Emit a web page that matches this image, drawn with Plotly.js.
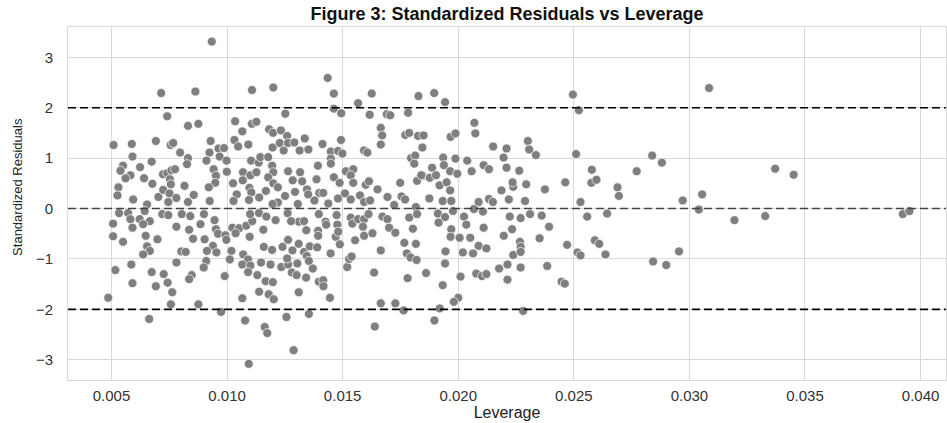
<!DOCTYPE html>
<html>
<head>
<meta charset="utf-8">
<script src="https://cdn.plot.ly/plotly-3.0.1.min.js"></script>
<style>html,body{margin:0;padding:0;background:#fff;}#chart{width:947px;height:423px;}</style>
</head>
<body>
<div id="chart"></div>
<script>
const leverage = [
0.00934,0.00715,0.00863,0.01108,0.0120,0.00741,0.00831,0.00876,0.01035,0.01066,0.01107,0.01127,0.01182,0.01199,0.01233,0.01252,0.0126,0.00509,0.00588,0.00692,0.00756,0.00767,0.00929,0.01032,0.01048,0.01092,0.00963,0.00987,0.00797,0.00924,0.00968,0.00831,0.00591,0.00674,0.0055,0.00539,0.00582,0.00561,0.00624,0.00641,0.00677,0.0053,0.00526,0.00594,0.00654,0.00703,0.00724,0.00723,0.00741,0.0076,0.00775,0.00753,0.00757,0.00751,0.00746,0.00781,0.00816,0.00831,0.00856,0.00827,0.00911,0.00942,0.00952,0.00949,0.00921,0.00925,0.00999,0.00998,0.01026,0.01042,0.01028,0.01069,0.01068,0.01101,0.01097,0.01105,0.01095,0.01139,0.01127,0.01104,0.01137,0.01144,0.01178,0.01195,0.0120,0.01178,0.0120,0.0122,0.01168,0.01197,0.01228,0.01245,0.01264,0.01251,0.0122,0.01197,
0.00533,0.00572,0.00644,0.0072,0.00746,0.00804,0.00841,0.009,0.00946,0.00507,0.00582,0.00622,0.00666,0.00637,0.00591,0.00507,0.0055,0.00648,0.00699,0.00781,0.00836,0.00885,0.00952,0.00961,0.00993,0.00997,0.01023,0.01052,0.01037,0.01098,0.01083,0.01109,0.011,0.01138,0.0117,0.01157,0.0121,0.01264,0.00654,0.00666,0.00637,0.00802,0.00821,0.00781,0.00853,0.00903,0.00939,0.00954,0.00913,0.01019,0.0107,0.01091,0.01012,0.01066,0.01101,0.01159,0.01195,0.0124,0.01147,0.01188,0.01235,0.01264,0.0091,0.00899,0.00517,0.00586,0.00674,0.00726,0.00591,0.00692,0.00743,0.00763,0.00847,0.00836,0.0099,0.01091,0.01131,0.01167,0.01198,0.01139,0.0118,0.01202,0.00486,0.00757,0.00876,0.01066,0.00974,0.00663,0.01078,0.01163,0.01174,0.01094,0.01257,
0.01435,0.01462,0.01626,0.01567,0.01828,0.01896,0.01943,0.01462,0.01494,0.01617,0.01691,0.01706,0.01783,0.01665,0.01671,0.01665,0.01771,0.01788,0.01826,0.0185,0.01845,0.01967,0.01988,0.0207,0.02074,0.02151,0.02209,0.02196,0.02209,0.01264,0.01291,0.01336,0.01314,0.01352,0.01413,0.01449,0.01493,0.0148,0.01499,0.01449,0.01449,0.01393,0.01593,0.01607,0.01796,0.01814,0.0181,0.01846,0.01887,0.01935,0.01938,0.01988,0.01965,0.01996,0.02039,0.02058,0.0211,0.02133,0.01316,0.01284,0.01325,0.01387,0.01462,0.01514,0.01546,0.01535,0.01487,0.01546,0.0160,0.01614,0.01749,0.01822,0.0184,0.01877,0.01904,0.01919,0.0195,0.01965,0.01294,0.01346,0.01399,0.01416,0.01351,0.01306,0.01378,0.01438,0.0148,0.0151,0.01535,0.01575,0.01593,0.01619,0.01651,0.01694,0.01723,0.01755,0.0177,0.01817,0.01875,0.01933,0.0197,0.02088,0.02133,0.0215,0.02187,0.02219,0.02238,
0.01262,0.0131,0.01333,0.01343,0.01277,0.01397,0.01426,0.01429,0.01394,0.01394,0.01474,0.01477,0.0147,0.01488,0.01481,0.01535,0.01542,0.01567,0.01593,0.01588,0.01612,0.01554,0.01593,0.01629,0.01672,0.01694,0.01701,0.01728,0.01788,0.01822,0.01804,0.01912,0.01943,0.01915,0.01977,0.02025,0.02035,0.02068,0.02107,0.0211,0.0197,0.01967,0.02006,0.02052,0.02223,0.02233,0.02197,0.01283,0.0131,0.01333,0.01345,0.01358,0.0139,0.0126,0.01304,0.01354,0.01371,0.0128,0.01301,0.01342,0.01397,0.01416,0.01417,0.01448,0.0131,0.01445,0.0152,0.01528,0.01539,0.01665,0.01636,0.01767,0.01817,0.01778,0.01794,0.0182,0.01781,0.01861,0.01945,0.01943,0.01933,0.0202,0.02064,0.02088,0.02122,0.0201,0.02078,0.02103,0.02122,0.02177,0.02213,0.02213,0.02238,0.02,0.01981,0.01665,0.01728,0.01764,0.0192,0.01897,0.01354,0.01639,0.01288,
0.02496,0.02522,0.03085,0.02301,0.02307,0.02336,0.0251,0.02839,0.02881,0.02264,0.02235,0.02294,0.02375,0.02463,0.02578,0.02576,0.02598,0.02772,0.02689,0.02695,0.02289,0.02529,0.02971,0.03055,0.03041,
0.0227,0.02311,0.02361,0.02393,0.02352,0.02267,0.0227,0.0227,0.02471,0.02516,0.02529,0.02558,0.02644,0.02591,0.0261,0.02637,0.0227,0.02385,0.02447,0.02461,0.02281,0.02843,0.029,0.02955,0.03195,
0.03371,0.03451,0.03328,0.03923,0.03952
];
const stdResid = [
3.31,2.29,2.32,2.35,2.40,1.83,1.64,1.68,1.73,1.53,1.68,1.72,1.57,1.50,1.55,1.88,1.44,1.26,1.28,1.34,1.26,1.30,1.34,1.36,1.23,1.27,1.19,1.20,1.11,1.11,1.03,1.0,1.03,0.93,0.85,0.75,0.66,0.60,0.82,0.60,0.49,0.42,0.26,0.18,0.08,0.23,0.37,0.68,0.70,0.76,0.78,0.58,0.48,0.30,0.13,0.21,0.45,0.13,0.27,0.88,0.95,0.78,0.65,0.51,0.42,0.15,0.73,0.95,0.50,0.28,0.15,0.72,0.56,0.66,0.41,0.32,0.17,0.22,0.72,0.95,0.91,1.02,1.02,0.85,0.72,0.62,0.50,0.42,0.35,1.21,1.30,1.15,0.74,0.25,0.12,0.09,
-0.09,-0.09,-0.05,-0.11,-0.13,-0.11,-0.15,-0.11,-0.23,-0.30,-0.21,-0.21,-0.25,-0.31,-0.38,-0.55,-0.66,-0.54,-0.61,-0.36,-0.42,-0.31,-0.41,-0.50,-0.53,-0.62,-0.38,-0.39,-0.49,-0.56,-0.34,-0.25,-0.11,-0.09,-0.16,-0.42,-0.23,-0.62,-0.75,-0.84,-0.91,-0.85,-0.86,-1.07,-0.60,-0.61,-0.74,-0.87,-0.84,-0.84,-0.91,-1.01,-1.01,-1.11,-1.13,-0.76,-0.82,-0.76,-1.07,-1.11,-1.16,-1.11,-1.04,-1.17,-1.22,-1.11,-1.26,-1.30,-1.48,-1.54,-1.47,-1.66,-1.32,-1.40,-1.34,-1.26,-1.32,-1.44,-1.46,-1.65,-1.70,-1.80,-1.77,-1.90,-1.90,-1.78,-2.05,-2.19,-2.22,-2.35,-2.47,-3.08,-2.15,
2.59,2.28,2.28,2.09,2.23,2.29,2.11,1.98,1.89,1.86,1.87,1.85,1.90,1.60,1.45,1.27,1.46,1.50,1.44,1.45,1.21,1.42,1.49,1.70,1.49,1.23,1.19,1.01,0.81,1.30,1.31,1.39,1.15,1.17,1.28,1.13,1.36,1.14,1.09,0.99,0.89,0.85,1.15,1.11,1.00,1.05,0.89,0.65,0.81,1.01,0.86,0.99,0.74,0.69,0.95,0.74,0.86,0.78,0.72,0.56,0.54,0.58,0.62,0.74,0.78,0.66,0.51,0.51,0.47,0.54,0.51,0.55,0.66,0.61,0.66,0.46,0.52,0.36,0.33,0.38,0.31,0.31,0.28,0.09,0.16,0.10,0.20,0.30,0.18,0.26,0.13,0.16,0.38,0.23,0.07,0.24,0.18,0.03,0.20,0.15,0.15,0.13,0.19,0.13,0.36,0.18,0.43,
-0.09,-0.26,-0.25,-0.43,-0.25,-0.11,-0.26,-0.32,-0.44,-0.54,-0.13,-0.32,-0.56,-0.71,-0.46,-0.18,-0.30,-0.21,-0.21,-0.36,-0.11,-0.63,-0.54,-0.49,-0.16,-0.21,-0.38,-0.48,-0.18,-0.11,-0.40,-0.10,-0.17,-0.28,-0.05,-0.16,-0.32,-0.01,-0.06,-0.38,-0.41,-0.56,-0.58,-0.58,-0.16,-0.41,-0.54,-0.83,-0.70,-0.86,-0.94,-0.75,-0.77,-0.99,-1.09,-1.04,-1.19,-1.27,-1.32,-1.37,-1.45,-1.42,-1.54,-0.89,-1.66,-1.77,-1.16,-1.0,-0.95,-0.83,-1.27,-0.68,-0.70,-0.89,-0.97,-1.02,-1.38,-1.28,-0.85,-1.09,-1.52,-0.87,-0.89,-0.74,-0.79,-1.35,-1.29,-1.34,-1.30,-1.19,-1.11,-1.41,-0.92,-1.77,-1.85,-1.88,-1.88,-2.02,-1.98,-2.22,-2.09,-2.34,-2.81,
2.26,1.95,2.39,1.34,1.17,1.06,1.08,1.05,0.91,0.75,0.52,0.48,0.38,0.52,0.77,0.51,0.57,0.74,0.42,0.25,0.15,0.13,0.16,0.28,-0.02,
-0.19,-0.11,-0.14,-0.36,-0.59,-0.66,-0.76,-0.86,-0.72,-0.87,-0.93,-0.16,-0.10,-0.63,-0.70,-0.91,-1.17,-1.14,-1.45,-1.49,-2.03,-1.05,-1.12,-0.85,-0.23,
0.79,0.67,-0.15,-0.11,-0.05
];
const refLines = [2, 0, -2];
const refColors = ['#000000', '#444444', '#000000'];
const xTickVals = [0.005, 0.010, 0.015, 0.020, 0.025, 0.030, 0.035, 0.040];

const font = 'Liberation Sans, Arial, sans-serif';
const trace = {
  x: leverage, y: stdResid, type: 'scatter', mode: 'markers',
  marker: {size: 9, color: '#7f7f7f', line: {color: '#ffffff', width: 0.7}},
  hoverinfo: 'x+y'
};
const shapes = refLines.map((v, i) => ({
  type: 'line', xref: 'paper', x0: 0, x1: 1, yref: 'y', y0: v, y1: v,
  line: {color: refColors[i], width: 1.6, dash: '8px,4px'}, layer: 'above'
}));
const layout = {
  width: 947, height: 423,
  margin: {l: 68, r: 1, t: 27, b: 43, pad: 0},
  paper_bgcolor: '#ffffff', plot_bgcolor: '#ffffff',
  showlegend: false,
  font: {family: font, color: '#333333', size: 15},
  title: {text: 'Figure 3: Standardized Residuals vs Leverage', x: 0.5, xref: 'paper', y: 0.967, yref: 'container', yanchor: 'middle',
    font: {family: font, size: 18, color: '#111111', weight: 'bold'}},
  xaxis: {range: [0.00312, 0.0411], tickvals: xTickVals, tickformat: '.3f',
    showgrid: true, gridcolor: '#d9d9d9', gridwidth: 1, zeroline: false,
    showline: true, linecolor: '#d9d9d9', linewidth: 1, mirror: true, ticks: '',
    tickfont: {family: font, size: 15, color: '#333333'}, ticklabelstandoff: 2,
    title: {text: 'Leverage', font: {family: font, size: 16, color: '#222222'}, standoff: 1}},
  yaxis: {range: [-3.4, 3.6], dtick: 1, tick0: 0,
    showgrid: true, gridcolor: '#d9d9d9', gridwidth: 1, zeroline: false,
    showline: true, linecolor: '#d9d9d9', linewidth: 1, mirror: true, ticks: '',
    tickfont: {family: font, size: 15, color: '#333333'}, ticklabelstandoff: 11},
  annotations: [{
    text: 'Standardized Residuals', textangle: -90, showarrow: false,
    xref: 'paper', x: -0.0575, xanchor: 'center', yref: 'y', y: 0.42, yanchor: 'middle',
    font: {family: font, size: 13, color: '#222222'}
  }],
  shapes: shapes
};
Plotly.newPlot('chart', [trace], layout, {displayModeBar: false, staticPlot: true});
</script>
</body>
</html>
